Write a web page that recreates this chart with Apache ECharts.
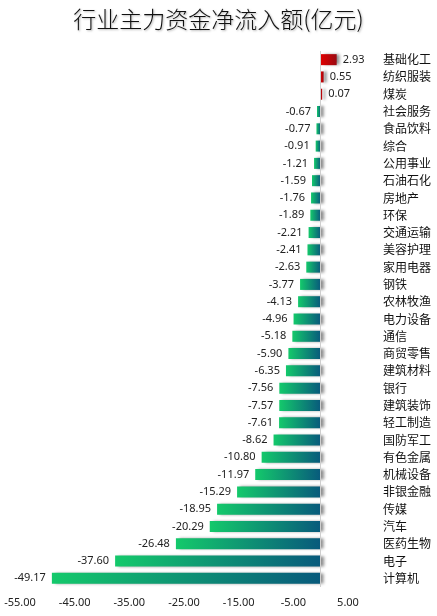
<!DOCTYPE html>
<html><head><meta charset="utf-8">
<script src="https://cdn.jsdelivr.net/npm/echarts@6/dist/echarts.min.js"></script>
<style>html,body{margin:0;padding:0;background:#fff}#c{width:437px;height:616px}</style>
</head><body><div id="c"></div>
<script>
const categories = ["基础化工","纺织服装","煤炭","社会服务","食品饮料","综合","公用事业","石油石化","房地产","环保","交通运输","美容护理","家用电器","钢铁","农林牧渔","电力设备","通信","商贸零售","建筑材料","银行","建筑装饰","轻工制造","国防军工","有色金属","机械设备","非银金融","传媒","汽车","医药生物","电子","计算机"];
const values = [2.93,0.55,0.07,-0.67,-0.77,-0.91,-1.21,-1.59,-1.76,-1.89,-2.21,-2.41,-2.63,-3.77,-4.13,-4.96,-5.18,-5.90,-6.35,-7.56,-7.57,-7.61,-8.62,-10.80,-11.97,-15.29,-18.95,-20.29,-26.48,-37.60,-49.17];
const xTicks = [-55,-45,-35,-25,-15,-5,5];

const chart = echarts.init(document.getElementById('c'));
const posGrad = new echarts.graphic.LinearGradient(0,0,1,0,[{offset:0,color:'#e00000'},{offset:1,color:'#9a0a12'}]);
const negGrad = new echarts.graphic.LinearGradient(0,0,1,0,[{offset:0,color:'#14c96b'},{offset:1,color:'#085a7c'}]);
chart.setOption({
  animation:false,
  title:{text:'行业主力资金净流入额(亿元)',left:'center',top:3,
    textStyle:{fontFamily:'Noto Sans CJK SC',fontWeight:300,fontSize:23,color:'#111',
      textShadowColor:'rgba(0,0,0,0.3)',textShadowBlur:2,textShadowOffsetX:1,textShadowOffsetY:1}},
  grid:{left:20,right:89,top:51,bottom:29,containLabel:false},
  xAxis:{type:'value',min:xTicks[0],max:xTicks[xTicks.length-1],interval:10,
    axisLine:{show:false},axisTick:{show:false},splitLine:{show:false},
    axisLabel:{formatter:v=>v.toFixed(2),color:'#222',fontSize:11,fontFamily:'Noto Sans',margin:10}},
  yAxis:{type:'category',data:categories,inverse:true,position:'right',
    axisLine:{show:false},axisTick:{show:false},
    axisLabel:{align:'left',margin:35,color:'#111',fontSize:12,fontFamily:'Noto Sans CJK SC'}},
  series:[{type:'bar',barWidth:11,barMinHeight:1.5,
    data:values.map(v=>({value:v,itemStyle:{color:v>=0?posGrad:negGrad},
      label:{position:v>=0?'right':'left'}})),
    itemStyle:{shadowColor:'rgba(0,0,0,0.45)',shadowBlur:3,shadowOffsetX:3},
    label:{show:true,formatter:p=>p.value.toFixed(2),color:'#222',fontSize:11,fontFamily:'Noto Sans',distance:6},
    markLine:{silent:true,symbol:'none',label:{show:false},
      lineStyle:{color:'#cfcfcf',type:'solid',width:1},data:[{xAxis:0}]}
  }]
});
</script></body></html>
